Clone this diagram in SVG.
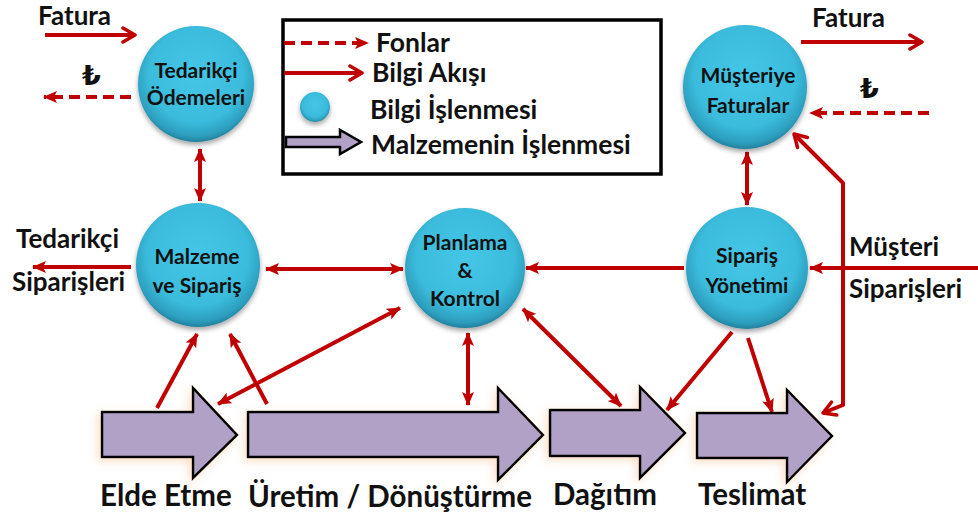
<svg xmlns="http://www.w3.org/2000/svg" width="978" height="523" viewBox="0 0 978 523">
  <defs>
    <style>
      text { font-family: Lato, "Liberation Sans", "DejaVu Sans", sans-serif; font-weight: 700; fill: #111; }
      .lbl { font-size: 26px; }
      .legend-text { font-size: 26.5px; }
      .big { font-size: 29.5px; }
      .node-text { font-size: 21px; text-anchor: middle; }
      .lira { font-family: "DejaVu Sans", "Noto Sans", sans-serif; font-weight: 700; font-size: 27px; }
      .flow { stroke: #C00000; stroke-width: 4; fill: none; }
      .fund { stroke: #C00000; stroke-width: 4; fill: none; stroke-dasharray: 11 6; }
      .sphere { fill: url(#sphereFill); filter: url(#drop); }
      .mat { fill: #B1A1C7; stroke: #000; stroke-width: 2.5; stroke-linejoin: miter; filter: url(#glow); }
    </style>
    <radialGradient id="sphereFill" cx="0.5" cy="0.42" r="0.58">
      <stop offset="0" stop-color="#45C6E6"/>
      <stop offset="0.7" stop-color="#3BBCDC"/>
      <stop offset="0.92" stop-color="#2C9DBD"/>
      <stop offset="1" stop-color="#237F9C"/>
    </radialGradient>
    <filter id="drop" x="-20%" y="-20%" width="140%" height="150%">
      <feGaussianBlur in="SourceAlpha" stdDeviation="2.5"/>
      <feOffset dx="0" dy="3" result="b"/>
      <feComponentTransfer><feFuncA type="linear" slope="0.35"/></feComponentTransfer>
      <feMerge><feMergeNode/><feMergeNode in="SourceGraphic"/></feMerge>
    </filter>
    <filter id="glow" x="-15%" y="-25%" width="130%" height="150%">
      <feGaussianBlur in="SourceAlpha" stdDeviation="4"/>
      <feOffset dx="-3" dy="3" result="b"/>
      <feFlood flood-color="#F4A460" flood-opacity="0.35"/>
      <feComposite in2="b" operator="in"/>
      <feMerge><feMergeNode/><feMergeNode in="SourceGraphic"/></feMerge>
    </filter>
    <!-- filled arrowhead -->
    <marker id="head" viewBox="0 0 14 12" refX="13" refY="6" markerWidth="14" markerHeight="12" markerUnits="userSpaceOnUse" orient="auto-start-reverse">
      <path d="M0,0 L14,6 L0,12 L3,6 z" fill="#C00000"/>
    </marker>
    <!-- open chevron arrowhead -->
    <marker id="vee" viewBox="0 0 16 18" refX="14" refY="9" markerWidth="16" markerHeight="18" markerUnits="userSpaceOnUse" orient="auto-start-reverse">
      <path d="M2,2 L14,9 L2,16" fill="none" stroke="#C00000" stroke-width="3.5" stroke-linecap="round" stroke-linejoin="round"/>
    </marker>
  </defs>

  <rect width="978" height="523" fill="#fff"/>

  <!-- legend -->
  <g id="legend">
    <rect x="283" y="20" width="378" height="154" fill="#fff" stroke="#000" stroke-width="3.5"/>
    <line class="fund" x1="284" y1="43" x2="368" y2="43" marker-end="url(#head)"/>
    <text class="legend-text" x="376" y="52">Fonlar</text>
    <line class="flow" x1="284" y1="73" x2="362" y2="73" marker-end="url(#vee)"/>
    <text class="legend-text" x="372" y="82">Bilgi Akışı</text>
    <circle class="sphere" cx="315" cy="107" r="15"/>
    <text class="legend-text" x="370" y="119">Bilgi İşlenmesi</text>
    <path class="mat" d="M286,137 L340,137 L340,130 L361,142 L340,154 L340,147 L286,147 z" style="filter:none"/>
    <text class="legend-text" x="371" y="154">Malzemenin İşlenmesi</text>
  </g>

  <!-- connectors -->
  <g id="connectors">
    <!-- supplier side -->
    <line class="flow" x1="45" y1="35" x2="135" y2="35" marker-end="url(#vee)"/>
    <line class="fund" x1="131" y1="97" x2="44" y2="97" marker-end="url(#head)"/>
    <line class="flow" x1="200" y1="149" x2="200" y2="201" marker-start="url(#head)" marker-end="url(#head)"/>
    <line class="flow" x1="131" y1="267" x2="33" y2="267" marker-end="url(#head)"/>
    <line class="flow" x1="266" y1="269" x2="403" y2="269" marker-start="url(#head)" marker-end="url(#head)"/>
    <!-- customer side -->
    <line class="flow" x1="801" y1="42" x2="922" y2="42" marker-end="url(#vee)"/>
    <line class="fund" x1="929" y1="113" x2="810" y2="113" marker-end="url(#head)"/>
    <line class="flow" x1="747" y1="152" x2="747" y2="205" marker-start="url(#head)" marker-end="url(#head)"/>
    <line class="flow" x1="684" y1="268" x2="526" y2="268" marker-end="url(#head)"/>
    <line class="flow" x1="978" y1="268" x2="810" y2="268" marker-end="url(#head)"/>
    <polyline class="flow" points="794,134 843,183 843,405 823,413" stroke-linejoin="round" marker-start="url(#vee)" marker-end="url(#vee)"/>
    <!-- material flow links -->
    <line class="flow" x1="157" y1="408" x2="197" y2="334" marker-end="url(#head)"/>
    <line class="flow" x1="267" y1="404" x2="230" y2="334" marker-end="url(#head)"/>
    <line class="flow" x1="400" y1="308" x2="218" y2="404" marker-start="url(#head)" marker-end="url(#head)"/>
    <line class="flow" x1="468" y1="333" x2="468" y2="405" marker-start="url(#head)" marker-end="url(#head)"/>
    <line class="flow" x1="523" y1="309" x2="621" y2="406" marker-start="url(#head)" marker-end="url(#head)"/>
    <line class="flow" x1="732" y1="332" x2="667" y2="410" marker-end="url(#head)"/>
    <line class="flow" x1="748" y1="338" x2="772" y2="412" marker-end="url(#head)"/>
  </g>

  <!-- free labels -->
  <text class="lbl" x="38" y="25">Fatura</text>
  <text class="lira" x="82" y="85">₺</text>
  <text class="lbl" x="812" y="27">Fatura</text>
  <text class="lira" x="860" y="98">₺</text>
  <text class="lbl" x="16" y="248">Tedarikçi</text>
  <text class="lbl" x="12" y="291">Siparişleri</text>
  <text class="lbl" x="849" y="256">Müşteri</text>
  <text class="lbl" x="849" y="298">Siparişleri</text>

  <!-- information processing nodes -->
  <g id="tedarikci-odemeleri">
    <circle class="sphere" cx="196" cy="84" r="58"/>
    <text class="node-text" x="196" y="78">Tedarikçi</text>
    <text class="node-text" x="196" y="105">Ödemeleri</text>
  </g>
  <g id="musteriye-faturalar">
    <circle class="sphere" cx="745" cy="87" r="62"/>
    <text class="node-text" x="748" y="83">Müşteriye</text>
    <text class="node-text" x="748" y="113">Faturalar</text>
  </g>
  <g id="malzeme-siparis">
    <circle class="sphere" cx="198" cy="265" r="62"/>
    <text class="node-text" x="197" y="264">Malzeme</text>
    <text class="node-text" x="197" y="293">ve Sipariş</text>
  </g>
  <g id="planlama-kontrol">
    <circle class="sphere" cx="465" cy="268" r="60"/>
    <text class="node-text" x="465" y="250">Planlama</text>
    <text class="node-text" x="465" y="278">&amp;</text>
    <text class="node-text" x="465" y="306">Kontrol</text>
  </g>
  <g id="siparis-yonetimi">
    <circle class="sphere" cx="747" cy="268" r="61"/>
    <text class="node-text" x="747" y="263">Sipariş</text>
    <text class="node-text" x="747" y="293">Yönetimi</text>
  </g>

  <!-- material processing stages -->
  <g id="elde-etme">
    <path class="mat" d="M102,412 L193,412 L193,388 L237,435 L193,478 L193,457 L102,457 z"/>
    <text class="big" x="100" y="506">Elde Etme</text>
  </g>
  <g id="uretim">
    <path class="mat" d="M248,412 L498,412 L498,388 L543,435 L498,480 L498,457 L248,457 z"/>
    <text class="big" x="248" y="507">Üretim / Dönüştürme</text>
  </g>
  <g id="dagitim">
    <path class="mat" d="M550,410 L640,410 L640,387 L685,433 L640,478 L640,456 L550,456 z"/>
    <text class="big" x="553" y="505">Dağıtım</text>
  </g>
  <g id="teslimat">
    <path class="mat" d="M697,413 L787,413 L787,390 L832,436 L787,482 L787,458 L697,458 z"/>
    <text class="big" x="698" y="505">Teslimat</text>
  </g>
</svg>
